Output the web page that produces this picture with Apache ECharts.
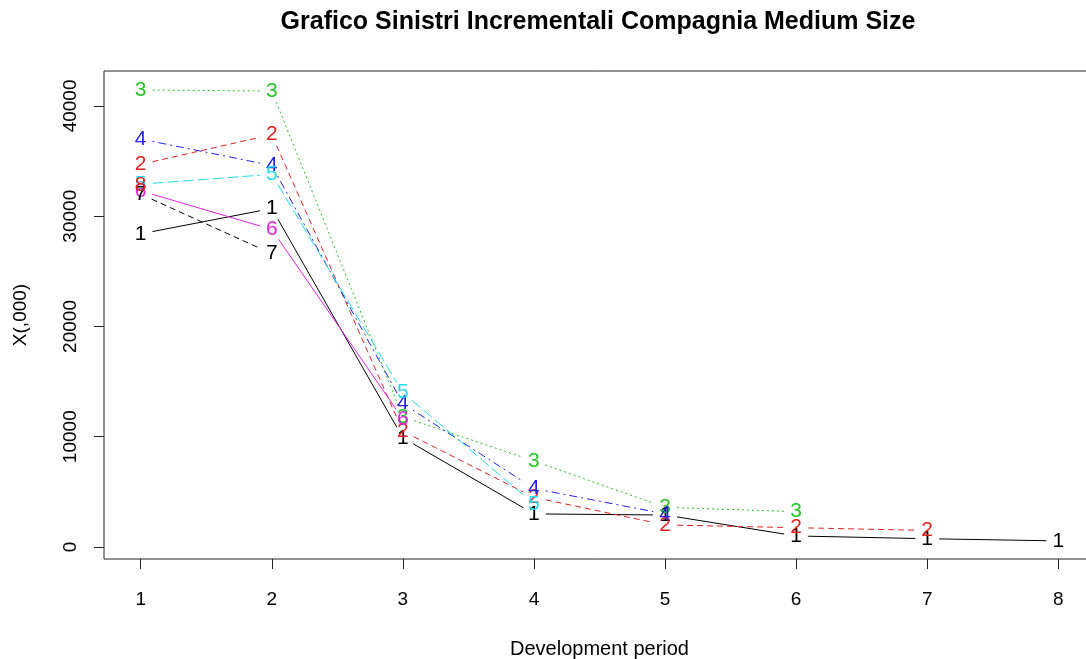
<!DOCTYPE html>
<html>
<head>
<meta charset="utf-8">
<title>Grafico Sinistri Incrementali</title>
<script src="https://cdn.jsdelivr.net/npm/echarts@6/dist/echarts.min.js"></script>
<style>
  html, body { margin: 0; padding: 0; background: #fff; }
  #chart { width: 1086px; height: 659px; }
</style>
</head>
<body>
<div id="chart"></div>
<script>
// development periods (x axis)
const periods = [1, 2, 3, 4, 5, 6, 7, 8]
// incremental claims per accident year
const year1 = [28400, 30700, 9900, 3000, 2900, 1000, 750, 550]
const year2 = [34700, 37400, 10500, 4500, 2000, 1750, 1500]
const year3 = [41450, 41350, 11800, 7800, 3600, 3200]
const year4 = [37000, 34600, 13000, 5300, 3000]
const year5 = [32900, 33800, 14000, 3900]
const year6 = [32300, 28800, 11600]
const year7 = [32000, 26600]
const year8 = [32800]
const yTicks = [0, 10000, 20000, 30000, 40000]

const years = [year1, year2, year3, year4, year5, year6, year7, year8]
const labels = ['1', '2', '3', '4', '5', '6', '7', '8']
// R matplot defaults: col 1:6, lty 1:5
const colors = ['#000000', '#E52222', '#26C426', '#2222E0', '#22DDEE', '#E022E0', '#000000', '#E52222']
const dashes = [null, [6, 4], [2, 3], [2, 4, 8, 4], [11, 4], null, [6, 4], [2, 3]]
const GAP = 12

const chart = echarts.init(document.getElementById('chart'))

// one custom series per accident year: line pieces with a gap round each numbered point (type = "b")
const series = years.map((vals, k) => {
  const pts = vals.map((v, i) => [periods[i], v])
  return {
    name: labels[k],
    type: 'custom',
    coordinateSystem: 'cartesian2d',
    encode: { x: 0, y: 1 },
    data: pts,
    clip: false,
    renderItem: (params, api) => {
      const i = params.dataIndex
      const p = api.coord([api.value(0), api.value(1)])
      const children = []
      if (i < pts.length - 1) {
        const q = api.coord(pts[i + 1])
        const dx = q[0] - p[0], dy = q[1] - p[1]
        const len = Math.hypot(dx, dy)
        if (len > 2 * GAP) {
          const ux = dx / len, uy = dy / len
          children.push({
            type: 'line',
            shape: { x1: p[0] + ux * GAP, y1: p[1] + uy * GAP, x2: q[0] - ux * GAP, y2: q[1] - uy * GAP },
            style: { stroke: colors[k], lineWidth: 1, lineDash: dashes[k] || null }
          })
        }
      }
      children.push({
        type: 'text',
        x: p[0],
        y: p[1],
        style: {
          text: labels[k],
          fill: colors[k],
          font: '21px "Liberation Sans", Arial, sans-serif',
          align: 'center',
          verticalAlign: 'middle'
        }
      })
      return { type: 'group', children }
    }
  }
})

chart.setOption({
  animation: false,
  backgroundColor: '#fff',
  textStyle: { fontFamily: '"Liberation Sans", Arial, sans-serif' },
  graphic: [{
    type: 'text',
    x: 598,
    y: 22,
    style: {
      text: 'Grafico Sinistri Incrementali Compagnia Medium Size',
      font: 'bold 25px "Liberation Sans", Arial, sans-serif',
      fill: '#000',
      align: 'center',
      verticalAlign: 'middle'
    }
  }],
  // plot box runs past the right edge of the picture, as in the original
  grid: {
    left: 104, top: 71, width: 991, height: 488,
    outerBoundsMode: 'none',
    show: true, borderColor: '#222', borderWidth: 1, backgroundColor: 'transparent'
  },
  xAxis: {
    type: 'value',
    min: 0.72,
    max: 8.28,
    name: 'Development period',
    nameLocation: 'middle',
    nameGap: 80,
    nameTextStyle: { fontSize: 20, color: '#000' },
    axisLine: { show: false, onZero: false },
    axisTick: { show: true, length: 10, customValues: periods, lineStyle: { color: '#222' } },
    axisLabel: { customValues: periods, margin: 31, fontSize: 19, color: '#000' },
    splitLine: { show: false }
  },
  yAxis: {
    type: 'value',
    min: -1090,
    max: 43170,
    name: 'X(,000)',
    nameLocation: 'middle',
    nameGap: 74,
    nameRotate: 90,
    nameTextStyle: { fontSize: 19, color: '#000' },
    axisLine: { show: false, onZero: false },
    axisTick: { show: true, length: 10, customValues: yTicks, lineStyle: { color: '#222' } },
    axisLabel: {
      customValues: yTicks,
      rotate: 90,
      margin: 24,
      fontSize: 19,
      color: '#000',
      formatter: v => String(v)
    },
    splitLine: { show: false }
  },
  series: series
})
</script>
</body>
</html>
